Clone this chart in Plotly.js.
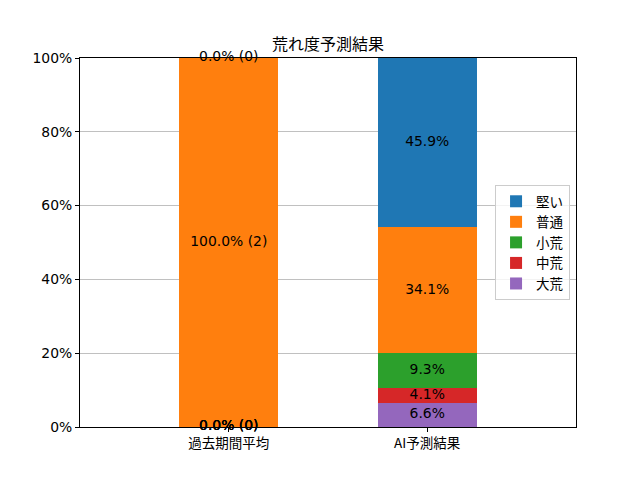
<!DOCTYPE html>
<html>
<head>
<meta charset="utf-8">
<script src="https://cdn.plot.ly/plotly-3.0.1.min.js"></script>
<style>html,body{margin:0;padding:0;background:#fff;}#chart{width:640px;height:480px;}</style>
</head>
<body>
<div id="chart"></div>
<script>
const categories = ['過去期間平均', 'AI予測結果'];
const seriesNames = ['堅い', '普通', '小荒', '中荒', '大荒'];
const seriesColors = ['#1f77b4', '#ff7f0e', '#2ca02c', '#d62728', '#9467bd'];
const pastPct = [0.0, 100.0, 0.0, 0.0, 0.0];
const pastCount = [0, 2, 0, 0, 0];
const aiPct = [45.9, 34.1, 9.3, 4.1, 6.6];
const yTickVals = [0, 20, 40, 60, 80, 100];
const yTickText = ['0%', '20%', '40%', '60%', '80%', '100%'];

const FONT = 'DejaVu Sans, "Noto Sans CJK JP", sans-serif';
const JFONT = '"Noto Sans CJK JP", DejaVu Sans, sans-serif';

const traces = [];
// stack from bottom: last series first
const order = [4, 3, 2, 1, 0];
for (const i of order) {
  traces.push({
    type: 'bar',
    name: seriesNames[i],
    x: categories,
    y: [pastPct[i], aiPct[i]],
    width: 0.5,
    marker: {color: seriesColors[i], line: {width: 0}},
    hoverinfo: 'skip'
  });
}

// label positions at segment centers
const lx = [], ly = [], lt = [];
let cumPast = 0, cumAi = 0;
for (const i of order) {
  lx.push(categories[0]);
  ly.push(cumPast + pastPct[i] / 2);
  lt.push(pastPct[i].toFixed(1) + '% (' + pastCount[i] + ')');
  cumPast += pastPct[i];
  lx.push(categories[1]);
  ly.push(cumAi + aiPct[i] / 2);
  lt.push(aiPct[i].toFixed(1) + '%');
  cumAi += aiPct[i];
}
traces.push({
  type: 'scatter',
  mode: 'text',
  x: lx, y: ly, text: lt,
  textposition: 'middle center',
  textfont: {family: FONT, size: 13.9, color: '#000'},
  showlegend: false,
  hoverinfo: 'skip',
  cliponaxis: false
});

const layout = {
  width: 640, height: 480,
  margin: {l: 80, r: 64, t: 58, b: 53},
  paper_bgcolor: '#fff', plot_bgcolor: '#fff',
  barmode: 'stack',
  showlegend: true,
  title: {text: '荒れ度予測結果', font: {family: JFONT, size: 16, color: '#000'},
          xref: 'paper', x: 0.5, xanchor: 'center', yref: 'container', y: 1 - 44/480, yanchor: 'middle'},
  xaxis: {
    type: 'category', range: [-0.75, 1.75],
    showline: true, linecolor: '#000', linewidth: 1, mirror: true,
    ticks: 'outside', ticklen: 4, tickcolor: '#000',
    showgrid: false, zeroline: false,
    tickfont: {family: JFONT, size: 13.5, color: '#000'}
  },
  yaxis: {
    range: [0, 100],
    tickvals: yTickVals, ticktext: yTickText,
    showline: true, linecolor: '#000', linewidth: 1, mirror: true,
    ticks: 'outside', ticklen: 4, tickcolor: '#000',
    showgrid: true, gridcolor: '#b0b0b0', gridwidth: 0.8, zeroline: false,
    tickfont: {family: FONT, size: 13.9, color: '#000'}
  },
  legend: {
    x: 0.988, xanchor: 'right', y: 0.5, yanchor: 'middle',
    traceorder: 'reversed',
    bgcolor: 'rgba(255,255,255,0.8)', bordercolor: '#cccccc', borderwidth: 1,
    font: {family: JFONT, size: 13.5, color: '#000'}
  }
};

Plotly.newPlot('chart', traces, layout, {displayModeBar: false, staticPlot: true});
</script>
</body>
</html>
